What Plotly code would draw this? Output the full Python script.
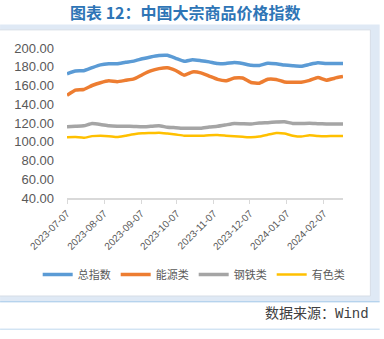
import pandas as pd
import plotly.graph_objects as go

# Weekly index readings, 2023-07-07 .. 2024-02-23
dates = pd.date_range("2023-07-07", periods=34, freq="7D")

total_index = [172.5, 175.5, 175.8, 179.0, 182.0, 183.2, 183.3, 184.8, 186.0, 188.5,
               190.5, 192.0, 192.2, 189.0, 185.8, 187.5, 186.5, 185.2, 183.4, 183.5,
               184.6, 183.5, 181.6, 181.4, 183.8, 183.2, 181.8, 181.0, 180.5, 182.5,
               184.2, 183.4, 183.5, 183.5]
energy = [149.5, 155.0, 155.8, 160.0, 163.0, 165.0, 164.0, 165.5, 167.0, 171.5,
          175.5, 178.0, 179.0, 176.0, 171.0, 174.5, 173.5, 170.0, 166.5, 165.0,
          168.0, 168.0, 163.2, 162.5, 166.7, 166.5, 163.8, 163.5, 163.5, 165.5,
          168.5, 165.7, 167.8, 169.5]
steel = [116.0, 116.5, 117.0, 119.5, 118.5, 117.0, 116.5, 116.5, 116.3, 116.0,
         116.5, 117.0, 115.5, 115.0, 114.3, 114.3, 114.5, 115.7, 116.5, 118.0,
         119.5, 119.2, 119.0, 120.0, 120.4, 121.0, 121.3, 119.5, 119.5, 119.7,
         119.3, 119.0, 119.0, 118.9]
nonferrous = [104.8, 105.0, 104.2, 106.0, 106.3, 106.0, 105.0, 106.5, 108.0, 109.0,
              109.3, 109.7, 108.8, 107.7, 106.5, 106.5, 106.3, 107.0, 107.2, 106.5,
              105.8, 105.3, 104.8, 105.5, 107.5, 109.3, 108.8, 106.5, 105.5, 107.0,
              106.2, 106.0, 106.2, 106.2]

series_names = ["总指数", "能源类", "钢铁类", "有色类"]
series_values = [total_index, energy, steel, nonferrous]
series_colors = ["#5b9bd5", "#ed7d31", "#a5a5a5", "#ffc000"]
series_widths = [3.5, 3.5, 3.5, 2.5]

tick_dates = ["2023-07-07", "2023-08-07", "2023-09-07", "2023-10-07",
              "2023-11-07", "2023-12-07", "2024-01-07", "2024-02-07"]

W, H = 384, 339
L, R, T, B = 67, 343.3, 47.7, 198.3


def px(x):
    return (x - L) / (R - L)


def py(y):
    return (B - y) / (B - T)


fig = go.Figure()
for name, vals, color, width in zip(series_names, series_values, series_colors, series_widths):
    fig.add_trace(go.Scatter(x=dates, y=vals, name=name, mode="lines",
                             line=dict(color=color, width=width, shape="spline", smoothing=0.4)))

font_main = "Liberation Sans, Noto Sans CJK SC, sans-serif"

shapes = [
    # light blue frame
    dict(type="rect", xref="paper", yref="paper", x0=px(0), x1=px(380), y0=py(302), y1=py(24),
         fillcolor="#dfe9f5", line=dict(width=0), layer="below"),
    # white chart panel
    dict(type="rect", xref="paper", yref="paper", x0=px(-2), x1=px(370.7), y0=py(296.7), y1=py(29.5),
         fillcolor="#ffffff", line=dict(color="#d6dde6", width=1), layer="below"),
    # rules around the source note
    dict(type="line", xref="paper", yref="paper", x0=px(0), x1=px(380), y0=py(302.5), y1=py(302.5),
         line=dict(color="#9dc3e6", width=1)),
    dict(type="line", xref="paper", yref="paper", x0=px(0), x1=px(380), y0=py(330), y1=py(330),
         line=dict(color="#bdd7ee", width=1)),
]

annotations = [
    dict(text="<b>图表 12：中国大宗商品价格指数</b>", xref="paper", yref="paper",
         x=px(186), y=py(12), xanchor="center", yanchor="middle", showarrow=False,
         font=dict(family="Noto Sans CJK SC", size=16, color="#2e75b6")),
    dict(text="数据来源：Wind", xref="paper", yref="paper",
         x=px(371), y=py(315), xanchor="right", yanchor="middle", showarrow=False,
         font=dict(family="Liberation Mono, Noto Sans CJK SC", size=14, color="#404040")),
]

fig.update_layout(
    width=W, height=H,
    margin=dict(l=L, r=W - R, t=T, b=H - B, pad=0, autoexpand=False),
    paper_bgcolor="#ffffff",
    plot_bgcolor="rgba(0,0,0,0)",
    font=dict(family=font_main, color="#595959"),
    showlegend=True,
    legend=dict(orientation="h", x=px(350), y=py(275), xanchor="right", yanchor="middle",
                font=dict(size=11, color="#595959", family="Noto Sans CJK SC"),
                bgcolor="rgba(0,0,0,0)", itemwidth=30, tracegroupgap=0),
    shapes=shapes,
    annotations=annotations,
)

fig.update_xaxes(
    type="date",
    range=[dates[0], dates[-1]],
    tickvals=pd.to_datetime(tick_dates),
    ticktext=tick_dates,
    tickangle=-45,
    tickfont=dict(size=10, color="#595959"),
    showgrid=False, zeroline=False,
    showline=True, linecolor="#d9d9d9", linewidth=1.5,
    ticks="outside", ticklen=4, tickcolor="#d9d9d9",
)
fig.update_yaxes(
    range=[40, 200], dtick=20, tick0=40,
    tickformat=".2f",
    tickfont=dict(size=13, color="#595959"),
    showgrid=False, zeroline=False, showline=False,
    ticklabelstandoff=12,
)

fig.write_html("out.html")
